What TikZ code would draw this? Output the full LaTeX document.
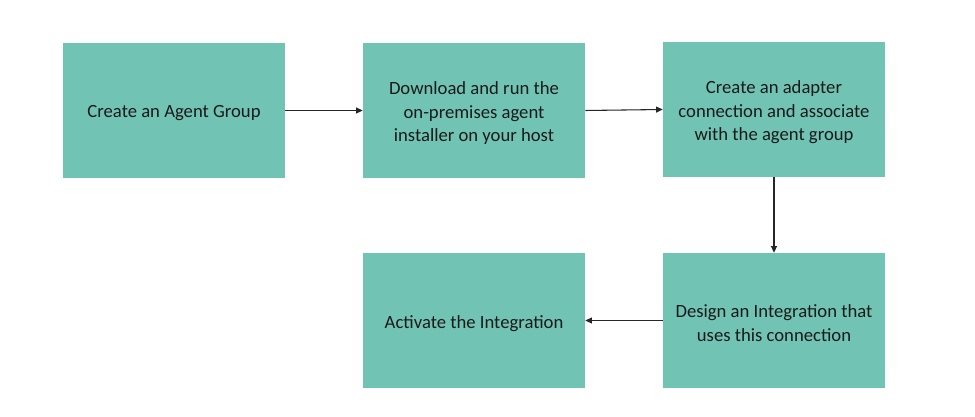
\documentclass[tikz,border=0pt]{standalone}
\usepackage{fontspec}
\setmainfont{Carlito}
\usetikzlibrary{arrows.meta}
\definecolor{boxteal}{HTML}{71C3B4}
\definecolor{txt}{HTML}{1A1A1A}
\begin{document}
\begin{tikzpicture}[x=0.75pt,y=-0.75pt,
  stepbox/.style={fill=boxteal,draw=none,minimum width=222*0.75pt,minimum height=135*0.75pt,inner sep=0pt},
  steptext/.style={align=center,inner sep=0pt,font=\fontsize{14}{17.6}\selectfont,text=txt},
  conn/.style={-{Triangle[length=5pt,width=4.5pt]},line width=0.8pt,draw=black!85}]
\useasboundingbox[fill=white] (0,0) rectangle (975,417);
\node[stepbox] (a) at (174,110.5) {};
\node[stepbox] (b) at (474,110.5) {};
\node[stepbox] (c) at (774,109.5) {};
\node[stepbox] (d) at (774,320.5) {};
\node[stepbox] (e) at (474,320.5) {};
\node[steptext] (at) at ([yshift=-2pt]a.center) {Create an Agent Group};
\node[steptext] (bt) at ([yshift=-2pt]b.center) {Download and run the\\on-premises agent\\installer on your host};
\node[steptext] (ct) at ([yshift=-2pt]c.center) {Create an adapter\\connection and associate\\with the agent group};
\node[steptext] (dt) at ([yshift=-2pt]d.center) {Design an Integration that\\uses this connection};
\node[steptext] (et) at ([yshift=-2pt]e.center) {Activate the Integration};
\draw[conn] (a.east) -- (b.west);
\draw[conn] (b.east) -- (c.west);
\draw[conn] (c.south) -- (d.north);
\draw[conn] (d.west) -- (e.east);
\end{tikzpicture}
\end{document}
